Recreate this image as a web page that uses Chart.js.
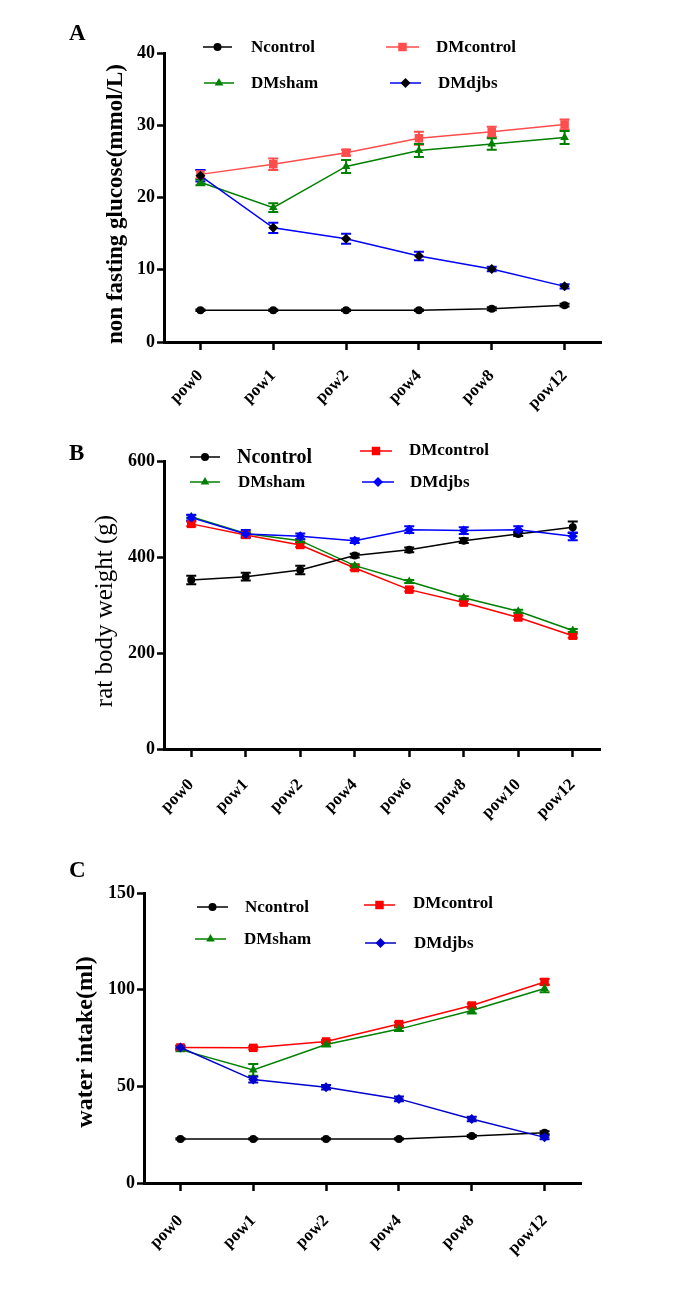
<!DOCTYPE html>
<html><head><meta charset="utf-8">
<script src="https://cdn.jsdelivr.net/npm/chart.js@4/dist/chart.umd.min.js"></script>
<style>
html,body{margin:0;padding:0;background:#fff;}
body{width:688px;height:1289px;position:relative;overflow:hidden;}
canvas{position:absolute;left:0;}
</style></head><body>
<canvas id="cA" width="688" height="430" style="top:0px"></canvas>
<canvas id="cB" width="688" height="440" style="top:410px"></canvas>
<canvas id="cC" width="688" height="459" style="top:830px"></canvas>
<script>
// ---------- Panel A: non fasting glucose ----------
const weeksA = ['pow0','pow1','pow2','pow4','pow8','pow12'];
const glucoseNcontrol = [4.4, 4.4, 4.4, 4.4, 4.6, 5.1];
const glucoseDMcontrol = [23.2, 24.6, 26.2, 28.2, 29.1, 30.1];
const glucoseDMsham = [22.1, 18.6, 24.3, 26.5, 27.4, 28.3];
const glucoseDMdjbs = [23.0, 15.8, 14.3, 11.9, 10.1, 7.7];
const glucoseErrNcontrol = [0.1, 0.1, 0.1, 0.1, 0.2, 0.2];
const glucoseErrDMcontrol = [0.6, 0.8, 0.4, 0.9, 0.7, 0.7];
const glucoseErrDMsham = [0.4, 0.6, 0.9, 0.9, 0.8, 0.9];
const glucoseErrDMdjbs = [0.8, 0.7, 0.7, 0.6, 0.3, 0.3];

// ---------- Panel B: rat body weight ----------
const weeksB = ['pow0','pow1','pow2','pow4','pow6','pow8','pow10','pow12'];
const weightNcontrol = [352, 359, 373, 403, 415, 434, 448, 462];
const weightDMcontrol = [469, 446, 425, 377, 332, 305, 274, 236];
const weightDMsham = [484, 449, 434, 382, 349, 315, 287, 247];
const weightDMdjbs = [482, 448, 443, 434, 457, 455, 457, 443];
const weightErrNcontrol = [9, 8, 9, 4, 5, 5, 4, 12];
const weightErrDMcontrol = [5, 4, 4, 4, 4, 4, 4, 4];
const weightErrDMsham = [3, 3, 3, 3, 3, 3, 3, 3];
const weightErrDMdjbs = [6, 8, 6, 5, 7, 7, 7, 8];

// ---------- Panel C: water intake ----------
const weeksC = ['pow0','pow1','pow2','pow4','pow8','pow12'];
const waterNcontrol = [22.8, 22.8, 22.8, 22.8, 24.3, 26.0];
const waterDMcontrol = [70.1, 69.9, 73.2, 82.2, 91.8, 104.0];
const waterDMsham = [69.0, 58.5, 71.6, 79.6, 89.2, 100.6];
const waterDMdjbs = [70.1, 53.5, 49.5, 43.5, 33.1, 23.6];
const waterErrNcontrol = [0.3, 0.3, 0.3, 0.3, 0.5, 0.8];
const waterErrDMcontrol = [0.8, 0.8, 0.8, 1.0, 1.0, 1.5];
const waterErrDMsham = [0.8, 3.0, 1.0, 1.0, 1.5, 2.0];
const waterErrDMdjbs = [1.0, 1.5, 1.2, 1.2, 1.2, 1.0];

const FONT = "'Liberation Serif','Times New Roman',serif";

function drawMarker(ctx, style, x, y, r, color) {
  ctx.save();
  ctx.fillStyle = color;
  ctx.beginPath();
  if (style === 'circle') {
    ctx.arc(x, y, r, 0, Math.PI * 2);
  } else if (style === 'rect') {
    const s = r * Math.SQRT1_2;
    ctx.rect(x - s, y - s, 2 * s, 2 * s);
  } else if (style === 'triangle') {
    let a = 0;
    ctx.moveTo(x + Math.sin(a) * r, y - Math.cos(a) * r);
    a += 2 * Math.PI / 3;
    ctx.lineTo(x + Math.sin(a) * r, y - Math.cos(a) * r);
    a += 2 * Math.PI / 3;
    ctx.lineTo(x + Math.sin(a) * r, y - Math.cos(a) * r);
  } else if (style === 'rectRot') {
    ctx.moveTo(x, y - r); ctx.lineTo(x + r, y); ctx.lineTo(x, y + r); ctx.lineTo(x - r, y);
  }
  ctx.closePath();
  ctx.fill();
  ctx.restore();
}

const errorBars = {
  id: 'errorBars',
  beforeDatasetsDraw(chart) {
    const ctx = chart.ctx;
    const ys = chart.scales.y;
    chart.data.datasets.forEach((ds, i) => {
      const meta = chart.getDatasetMeta(i);
      ctx.save();
      ctx.strokeStyle = ds.errColor;
      ctx.lineWidth = 2;
      meta.data.forEach((pt, j) => {
        const v = ds.data[j], e = ds.errors[j];
        const x = pt.x;
        const y1 = ys.getPixelForValue(v + e), y2 = ys.getPixelForValue(v - e);
        ctx.beginPath();
        ctx.moveTo(x, y1); ctx.lineTo(x, y2);
        ctx.moveTo(x - 5, y1); ctx.lineTo(x + 5, y1);
        ctx.moveTo(x - 5, y2); ctx.lineTo(x + 5, y2);
        ctx.stroke();
      });
      ctx.restore();
    });
  }
};

const decorations = {
  id: 'decorations',
  afterDraw(chart) {
    const d = chart.options.plugins.decorations;
    const ctx = chart.ctx;
    ctx.save();
    ctx.fillStyle = '#000';
    ctx.font = 'bold 23px ' + FONT;
    ctx.textAlign = 'left';
    ctx.textBaseline = 'alphabetic';
    ctx.fillText(d.letter, d.letterX, d.letterY);
    ctx.save();
    ctx.translate(d.titleX, d.titleY);
    ctx.rotate(-Math.PI / 2);
    ctx.font = d.titleFont;
    ctx.textAlign = 'center';
    ctx.textBaseline = 'middle';
    ctx.fillText(d.title, 0, 0);
    ctx.restore();
    d.legend.forEach(item => {
      const ds = chart.data.datasets[item.ds];
      ctx.save();
      ctx.strokeStyle = ds.borderColor;
      ctx.lineWidth = 1.5;
      ctx.beginPath();
      ctx.moveTo(item.x1, item.y); ctx.lineTo(item.x2, item.y);
      ctx.stroke();
      drawMarker(ctx, ds.pointStyle, (item.x1 + item.x2) / 2, item.y, ds.pointRadius, ds.pointBackgroundColor);
      ctx.fillStyle = '#000';
      ctx.font = 'bold ' + (item.size || 17) + 'px ' + FONT;
      ctx.textAlign = 'left';
      ctx.textBaseline = 'middle';
      ctx.fillText(ds.label, item.tx, item.ty);
      ctx.restore();
    });
    ctx.restore();
  }
};

function series(label, data, errors, color, pointColor, errColor, style, radius, order) {
  return {
    label, data, errors, errColor,
    borderColor: color, backgroundColor: pointColor,
    pointBackgroundColor: pointColor, pointBorderColor: pointColor,
    pointStyle: style, pointRadius: radius, pointBorderWidth: 0,
    borderWidth: 1.5, tension: 0, order, fill: false
  };
}

function makePanel(id, labels, datasets, g, deco) {
  return new Chart(document.getElementById(id), {
    type: 'line',
    data: { labels, datasets },
    options: {
      responsive: false, animation: false, devicePixelRatio: 1,
      layout: { padding: { top: g.top, left: 0, right: 688 - g.right, bottom: 0 } },
      plugins: { legend: { display: false }, tooltip: { enabled: false }, decorations: deco },
      scales: {
        x: {
          type: 'category', offset: true,
          grid: { display: true, drawOnChartArea: false, offset: false, drawTicks: true, tickLength: 8, tickWidth: 2.5, tickColor: '#000' },
          border: { display: true, color: '#000', width: 3 },
          ticks: { autoSkip: false, minRotation: 45, maxRotation: 45, padding: g.xPad, color: '#000',
                   font: { family: FONT, size: 17, weight: 'bold' } },
          afterFit: s => { s.height = g.xh; }
        },
        y: {
          min: 0, max: g.ymax,
          ticks: { stepSize: g.step, padding: 2, color: '#000', font: { family: FONT, size: 18, weight: 'bold' } },
          grid: { display: true, drawOnChartArea: false, drawTicks: true, tickLength: 7, tickWidth: 2.5, tickColor: '#000' },
          border: { display: true, color: '#000', width: 3 },
          afterFit: s => { s.width = g.left; }
        }
      }
    },
    plugins: [errorBars, decorations]
  });
}

// Panel A
makePanel('cA', weeksA, [
  series('Ncontrol', glucoseNcontrol, glucoseErrNcontrol, '#000000', '#000000', '#000000', 'circle', 4, 1),
  series('DMcontrol', glucoseDMcontrol, glucoseErrDMcontrol, '#ff4d4d', '#ff4d4d', '#ff4d4d', 'rect', 6, 3),
  series('DMsham', glucoseDMsham, glucoseErrDMsham, '#008000', '#008000', '#008000', 'triangle', 5, 2),
  series('DMdjbs', glucoseDMdjbs, glucoseErrDMdjbs, '#0000ff', '#000000', '#0000ff', 'rectRot', 5, 0)
], { top: 53, left: 164, right: 601, xh: 88, ymax: 40, step: 10, xPad: 16 }, {
  letter: 'A', letterX: 69, letterY: 40,
  title: 'non fasting glucose(mmol/L)', titleFont: 'bold 23px ' + FONT, titleX: 116, titleY: 204,
  legend: [
    { ds: 0, x1: 203, x2: 232, y: 47, tx: 251, ty: 48 },
    { ds: 1, x1: 386, x2: 419, y: 47, tx: 436, ty: 48 },
    { ds: 2, x1: 204, x2: 234, y: 83, tx: 251, ty: 84 },
    { ds: 3, x1: 390, x2: 421, y: 83, tx: 438, ty: 84 }
  ]
});

// Panel B
makePanel('cB', weeksB, [
  series('Ncontrol', weightNcontrol, weightErrNcontrol, '#000000', '#000000', '#000000', 'circle', 4, 1),
  series('DMcontrol', weightDMcontrol, weightErrDMcontrol, '#ff0000', '#ff0000', '#ff0000', 'rect', 6, 3),
  series('DMsham', weightDMsham, weightErrDMsham, '#008000', '#008000', '#008000', 'triangle', 5, 2),
  series('DMdjbs', weightDMdjbs, weightErrDMdjbs, '#0000ff', '#0000ff', '#0000ff', 'rectRot', 5, 0)
], { top: 51, left: 164, right: 600, xh: 101, ymax: 600, step: 200, xPad: 18 }, {
  letter: 'B', letterX: 69, letterY: 50,
  title: 'rat body weight (g)', titleFont: '25px ' + FONT, titleX: 105, titleY: 201,
  legend: [
    { ds: 0, x1: 190, x2: 220, y: 47, tx: 237, ty: 48, size: 20 },
    { ds: 1, x1: 360, x2: 392, y: 41, tx: 409, ty: 41 },
    { ds: 2, x1: 190, x2: 220, y: 72, tx: 238, ty: 73 },
    { ds: 3, x1: 362, x2: 394, y: 72, tx: 410, ty: 73 }
  ]
});

// Panel C
makePanel('cC', weeksC, [
  series('Ncontrol', waterNcontrol, waterErrNcontrol, '#000000', '#000000', '#000000', 'circle', 4, 1),
  series('DMcontrol', waterDMcontrol, waterErrDMcontrol, '#ff0000', '#ff0000', '#ff0000', 'rect', 6, 3),
  series('DMsham', waterDMsham, waterErrDMsham, '#008000', '#008000', '#008000', 'triangle', 5, 2),
  series('DMdjbs', waterDMdjbs, waterErrDMdjbs, '#0000cc', '#0000cc', '#0000cc', 'rectRot', 5, 0)
], { top: 63, left: 144, right: 581, xh: 106, ymax: 150, step: 50, xPad: 20 }, {
  letter: 'C', letterX: 69, letterY: 47,
  title: 'water intake(ml)', titleFont: 'bold 24px ' + FONT, titleX: 86, titleY: 212,
  legend: [
    { ds: 0, x1: 197, x2: 228, y: 77, tx: 245, ty: 78 },
    { ds: 1, x1: 364, x2: 395, y: 75, tx: 413, ty: 74 },
    { ds: 2, x1: 195, x2: 226, y: 109, tx: 244, ty: 110 },
    { ds: 3, x1: 365, x2: 396, y: 113, tx: 414, ty: 114 }
  ]
});
</script>
</body></html>
